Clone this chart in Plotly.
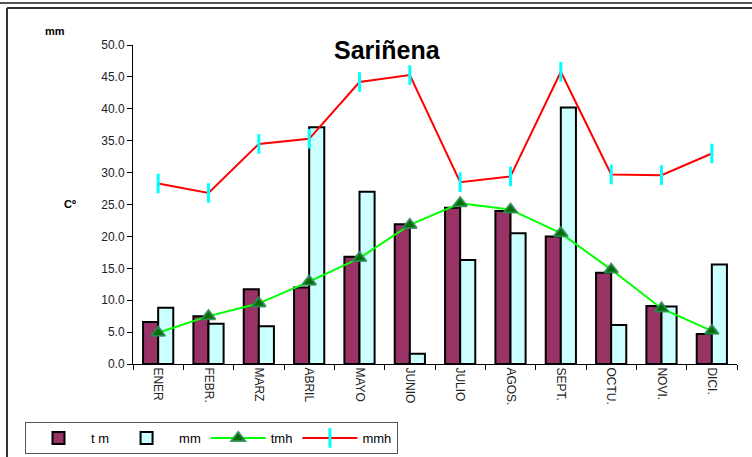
import plotly.graph_objects as go

months = ["ENER", "FEBR.", "MARZ", "ABRIL", "MAYO", "JUNIO", "JULIO", "AGOS.", "SEPT.", "OCTU.", "NOVI.", "DICI."]
tm = [6.6, 7.5, 11.7, 12.0, 16.8, 21.9, 24.5, 24.0, 20.0, 14.3, 9.1, 4.7]
mm = [8.8, 6.3, 5.9, 37.1, 27.0, 1.6, 16.3, 20.5, 40.2, 6.1, 9.0, 15.6]
tmh = [4.9, 7.5, 9.5, 12.9, 16.6, 21.8, 25.2, 24.2, 20.5, 14.8, 8.7, 5.2]
mmh = [28.3, 26.8, 34.5, 35.3, 44.2, 45.3, 28.5, 29.4, 45.8, 29.7, 29.6, 33.0]
y_ticks = [0, 5, 10, 15, 20, 25, 30, 35, 40, 45, 50]

FONT = "Arial, Liberation Sans, sans-serif"

# plot area in pixels
L, R, T, B = 133, 737, 45, 364
W, H = 752, 457


def px(x):
    return (x - L) / (R - L)


def py(y):
    return (B - y) / (B - T)


fig = go.Figure()
fig.add_trace(go.Bar(x=months, y=tm, name="t m",
                     marker=dict(color="#993366", line=dict(color="black", width=2))))
fig.add_trace(go.Bar(x=months, y=mm, name="mm",
                     marker=dict(color="#CCFFFF", line=dict(color="black", width=2))))
fig.add_trace(go.Scatter(x=months, y=tmh, name="tmh", mode="lines+markers",
                         line=dict(color="#00FF00", width=2),
                         marker=dict(symbol="triangle-up", size=12, color="#006e00",
                                     line=dict(color="rgba(46,139,87,0.85)", width=2))))
fig.add_trace(go.Scatter(x=months, y=mmh, name="mmh", mode="lines+markers",
                         line=dict(color="#FF0000", width=2),
                         marker=dict(symbol="line-ns", size=14,
                                     line=dict(color="#00FFFF", width=3))))

shapes = [
    dict(type="line", xref="paper", yref="paper", x0=px(0), x1=px(W), y0=py(3), y1=py(3),
         line=dict(color="#555555", width=2)),
    dict(type="line", xref="paper", yref="paper", x0=px(7), x1=px(W), y0=py(8), y1=py(8),
         line=dict(color="#333333", width=2)),
    dict(type="line", xref="paper", yref="paper", x0=px(7), x1=px(7), y0=py(8), y1=py(H),
         line=dict(color="#333333", width=2)),
]

fig.update_layout(
    width=W, height=H,
    margin=dict(l=L, r=W - R, t=T, b=H - B, pad=0, autoexpand=False),
    paper_bgcolor="white", plot_bgcolor="white",
    font=dict(family=FONT, size=12, color="black"),
    barmode="group", bargap=0.4, bargroupgap=0,
    showlegend=True,
    legend=dict(orientation="h", x=px(25), y=py(422), xanchor="left", yanchor="top",
                bordercolor="#555555", borderwidth=1, font=dict(size=13, family=FONT),
                itemwidth=55, tracegroupgap=0),
    shapes=shapes,
    annotations=[
        dict(text="<b>Sariñena</b>", xref="paper", yref="paper", x=px(387), y=py(50),
             xanchor="center", yanchor="middle", showarrow=False,
             font=dict(size=25, family=FONT)),
        dict(text="<b>mm</b>", xref="paper", yref="paper", x=px(55), y=py(31),
             xanchor="center", yanchor="middle", showarrow=False,
             font=dict(size=11, family=FONT)),
        dict(text="<b>Cº</b>", xref="paper", yref="paper", x=px(70), y=py(204),
             xanchor="center", yanchor="middle", showarrow=False,
             font=dict(size=11, family=FONT)),
    ],
)

fig.update_yaxes(range=[0, 50], tickvals=y_ticks, tickformat=".1f", automargin=False,
                 showgrid=False, zeroline=False, showline=True, linecolor="black", linewidth=1,
                 ticks="outside", ticklen=5, tickcolor="black", tickfont=dict(size=12, color="#222222"))
fig.update_xaxes(type="category", range=[-0.5, len(months) - 0.5], tickangle=90,
                 showgrid=False, showline=True, automargin=False,
                 linecolor="black", linewidth=1, ticks="outside", ticklen=5, tickcolor="black",
                 tickson="boundaries", tickfont=dict(size=12, color="#222222"))

fig.write_html("out.html", config={"displayModeBar": False},
               post_script="document.body.style.margin='0px';document.body.style.overflow='hidden';")
